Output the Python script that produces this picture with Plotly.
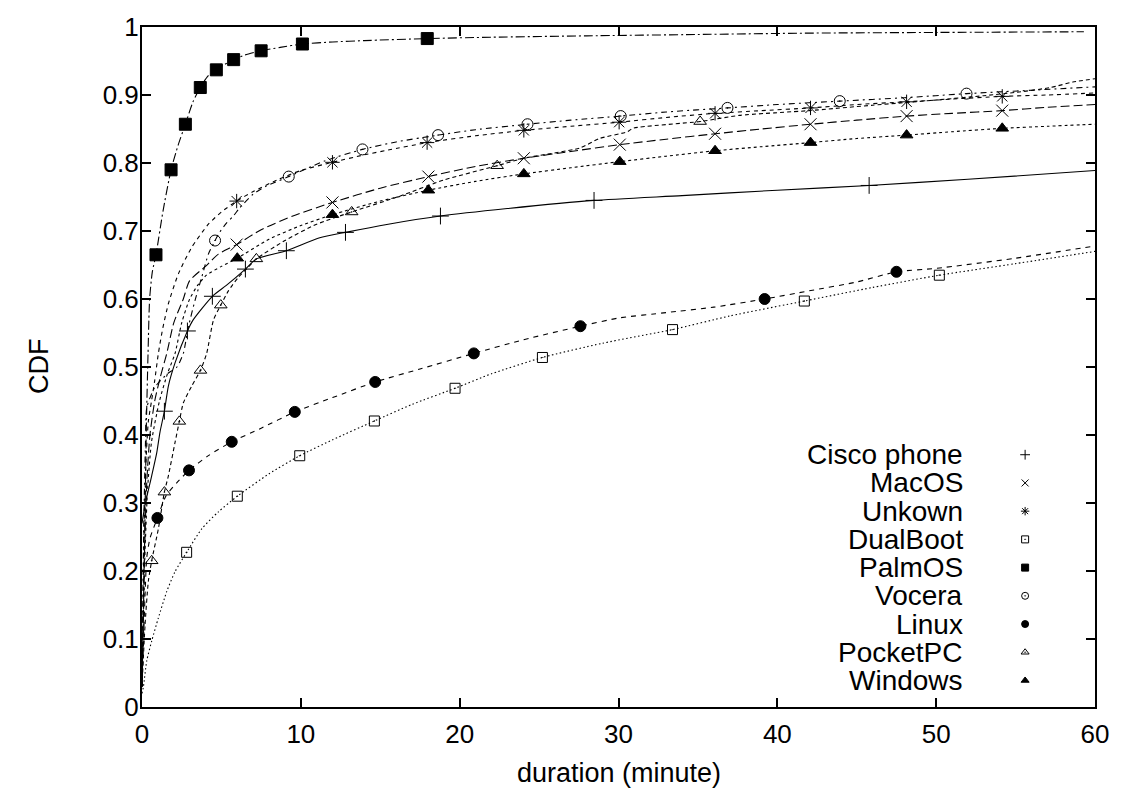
import plotly.graph_objects as go

# ---------------- data: session duration (minutes) vs CDF ----------------
cisco_x = [0, 0.19, 0.61, 0.93, 1.13, 1.41, 1.66, 2.08, 2.86, 3.21, 4.43, 5.31, 6.51, 7.2, 9.09,
           11.19, 12.81, 15.5, 18.79, 23.0, 28.46, 34.0, 40.0, 45.78, 52.0, 60.0]
cisco_y = [0.27, 0.297, 0.340, 0.374, 0.404, 0.435, 0.472, 0.506, 0.553, 0.569, 0.604, 0.620, 0.644,
           0.659, 0.671, 0.690, 0.698, 0.710, 0.722, 0.733, 0.745, 0.752, 0.760, 0.767, 0.776, 0.789]
cisco_mx = [1.41, 2.86, 4.43, 6.51, 9.09, 12.81, 18.79, 28.46, 45.78]
cisco_my = [0.435, 0.553, 0.604, 0.644, 0.671, 0.698, 0.722, 0.745, 0.767]

macos_x = [0, 0.07, 0.15, 0.3, 0.5, 0.8, 1.15, 1.56, 2.0, 2.6, 3.0, 4.05, 4.81, 5.96, 7.5, 9.5,
           11.99, 15.0, 18.03, 21.0, 24.04, 27.0, 30.08, 33.0, 36.08, 39.0, 42.09, 45.0, 48.14,
           51.0, 54.16, 57.0, 60.0]
macos_y = [0.03, 0.12, 0.22, 0.33, 0.40, 0.45, 0.485, 0.52, 0.565, 0.600, 0.627, 0.649, 0.666,
           0.680, 0.702, 0.722, 0.742, 0.763, 0.780, 0.795, 0.807, 0.817, 0.827, 0.835, 0.843,
           0.850, 0.857, 0.863, 0.869, 0.873, 0.877, 0.882, 0.886]
macos_mx = [5.96, 11.99, 18.03, 24.04, 30.08, 36.08, 42.09, 48.14, 54.16]
macos_my = [0.680, 0.742, 0.780, 0.807, 0.827, 0.843, 0.857, 0.869, 0.877]

unknown_x = [0, 0.05, 0.12, 0.25, 0.4, 0.6, 0.8, 1.03, 1.3, 1.66, 2.29, 3.13, 4.18, 5.0, 5.96,
             7.0, 8.5, 10.0, 11.99, 14.0, 15.5, 17.95, 21.0, 24.04, 27.0, 30.04, 33.0, 36.08,
             39.0, 42.09, 45.0, 48.14, 51.0, 54.16, 57.0, 60.0]
unknown_y = [0.03, 0.12, 0.25, 0.36, 0.42, 0.45, 0.48, 0.52, 0.556, 0.593, 0.637, 0.676, 0.710,
             0.728, 0.744, 0.758, 0.775, 0.789, 0.801, 0.812, 0.819, 0.830, 0.840, 0.848, 0.854,
             0.860, 0.867, 0.873, 0.877, 0.881, 0.886, 0.890, 0.894, 0.898, 0.900, 0.903]
unknown_mx = [5.96, 11.99, 17.95, 24.04, 30.04, 36.08, 42.09, 48.14, 54.16]
unknown_my = [0.744, 0.801, 0.830, 0.848, 0.860, 0.873, 0.881, 0.890, 0.898]

dualboot_x = [0, 0.09, 0.3, 0.61, 1.03, 1.56, 2.08, 2.81, 3.76, 4.81, 6.0, 8.0, 9.93, 12.0, 14.63,
              17.0, 19.71, 22.0, 25.21, 29.0, 33.4, 37.0, 41.7, 46.0, 50.2, 55.0, 60.0]
dualboot_y = [0.02, 0.03, 0.068, 0.097, 0.131, 0.170, 0.199, 0.2275, 0.262, 0.287, 0.310, 0.343,
              0.3695, 0.393, 0.4206, 0.445, 0.4687, 0.490, 0.514, 0.535, 0.555, 0.575, 0.597,
              0.617, 0.635, 0.652, 0.670]
dualboot_mx = [2.81, 6.0, 9.93, 14.63, 19.71, 25.21, 33.4, 41.7, 50.2]
dualboot_my = [0.2275, 0.310, 0.3695, 0.4206, 0.4687, 0.514, 0.555, 0.597, 0.635]

palmos_x = [0, 0.1, 0.2, 0.28, 0.38, 0.48, 0.65, 0.88, 1.32, 1.83, 2.27, 2.73, 3.21, 3.67, 4.16,
            4.68, 5.2, 5.77, 6.5, 7.5, 8.7, 10.1, 12.0, 14.0, 17.96, 22.0, 28.0, 35.0, 42.0,
            50.0, 59.3]
palmos_y = [0.03, 0.15, 0.30, 0.42, 0.52, 0.60, 0.64, 0.665, 0.729, 0.790, 0.826, 0.857, 0.890,
            0.911, 0.928, 0.937, 0.945, 0.952, 0.959, 0.965, 0.970, 0.975, 0.978, 0.980, 0.983,
            0.985, 0.987, 0.989, 0.991, 0.992, 0.993]
palmos_mx = [0.88, 1.83, 2.73, 3.67, 4.68, 5.77, 7.5, 10.1, 17.96]
palmos_my = [0.665, 0.790, 0.857, 0.911, 0.937, 0.952, 0.965, 0.975, 0.983]

vocera_x = [0, 0.05, 0.12, 0.22, 0.3, 0.8, 1.6, 2.2, 2.6, 2.92, 3.34, 3.76, 4.18, 4.6, 4.91, 5.33,
            5.75, 6.15, 6.99, 7.83, 9.24, 11.5, 13.88, 16.0, 18.64, 21.0, 24.27, 27.0, 30.14,
            33.0, 36.86, 40.0, 43.93, 48.0, 51.91, 56.0, 60.0]
vocera_y = [0.03, 0.15, 0.28, 0.39, 0.44, 0.47, 0.49, 0.50, 0.52, 0.559, 0.598, 0.632, 0.666,
            0.686, 0.699, 0.712, 0.722, 0.734, 0.754, 0.766, 0.780, 0.803, 0.820, 0.831, 0.841,
            0.849, 0.857, 0.863, 0.869, 0.875, 0.881, 0.886, 0.891, 0.896, 0.902, 0.907, 0.912]
vocera_mx = [4.6, 9.24, 13.88, 18.64, 24.27, 30.14, 36.86, 43.93, 51.91]
vocera_my = [0.686, 0.780, 0.820, 0.841, 0.857, 0.869, 0.881, 0.891, 0.902]

linux_x = [0, 0.1, 0.2, 0.3, 0.5, 0.97, 1.5, 2.2, 2.96, 4.2, 5.65, 7.5, 9.62, 12.0, 14.68, 17.5,
           20.89, 24.0, 27.6, 30.0, 33.0, 36.0, 39.2, 42.0, 45.0, 47.5, 50.0, 55.0, 60.0]
linux_y = [0.03, 0.10, 0.17, 0.22, 0.248, 0.278, 0.310, 0.330, 0.348, 0.370, 0.390, 0.410, 0.434,
           0.455, 0.478, 0.497, 0.520, 0.540, 0.560, 0.572, 0.580, 0.588, 0.600, 0.612, 0.625,
           0.640, 0.645, 0.660, 0.678]
linux_mx = [0.97, 2.96, 5.65, 9.62, 14.68, 20.89, 27.6, 39.2, 47.5]
linux_my = [0.278, 0.348, 0.390, 0.434, 0.478, 0.520, 0.560, 0.600, 0.640]

pocketpc_x = [0, 0.19, 0.4, 0.61, 1.03, 1.41, 1.66, 2.08, 2.35, 2.6, 3.13, 3.68, 4.07, 4.5, 4.96,
              5.44, 6.07, 6.7, 7.2, 9.0, 11.0, 13.2, 16.2, 19.0, 22.36, 24.04, 27.56, 28.8,
              30.57, 30.9, 35.14, 37.6, 42.0, 46.0, 50.2, 53.0, 55.07, 57.2, 58.6, 60.0]
pocketpc_y = [0.03, 0.12, 0.185, 0.215, 0.262, 0.316, 0.340, 0.389, 0.420, 0.447, 0.472, 0.495,
              0.520, 0.569, 0.591, 0.612, 0.632, 0.647, 0.659, 0.686, 0.710, 0.728, 0.751, 0.775,
              0.796, 0.807, 0.822, 0.836, 0.846, 0.851, 0.861, 0.870, 0.877, 0.885, 0.893,
              0.899, 0.904, 0.911, 0.919, 0.924]
pocketpc_mx = [0.61, 1.41, 2.35, 3.68, 4.96, 7.2, 13.2, 22.36, 35.14]
pocketpc_my = [0.215, 0.316, 0.420, 0.495, 0.591, 0.659, 0.728, 0.796, 0.861]

windows_x = [0, 0.08, 0.18, 0.35, 0.6, 1.1, 1.6, 2.08, 2.5, 3.0, 3.5, 4.05, 5.0, 6.0, 8.0, 10.0,
             11.99, 15.0, 18.03, 21.0, 24.04, 27.0, 30.08, 33.0, 36.08, 39.0, 42.09, 45.0,
             48.14, 51.0, 54.16, 57.0, 60.0]
windows_y = [0.03, 0.12, 0.22, 0.32, 0.39, 0.45, 0.49, 0.52, 0.565, 0.600, 0.620, 0.635, 0.648,
             0.660, 0.688, 0.708, 0.724, 0.744, 0.760, 0.773, 0.784, 0.793, 0.802, 0.810, 0.818,
             0.824, 0.830, 0.836, 0.841, 0.846, 0.851, 0.854, 0.857]
windows_mx = [6.0, 11.99, 18.03, 24.04, 30.08, 36.08, 42.09, 48.14, 54.16]
windows_my = [0.660, 0.724, 0.760, 0.784, 0.802, 0.818, 0.830, 0.841, 0.851]

series_names = ["Cisco phone", "MacOS", "Unkown", "DualBoot", "PalmOS",
                "Vocera", "Linux", "PocketPC", "Windows"]

x_ticks = [0, 10, 20, 30, 40, 50, 60]
y_ticks = [0, 0.1, 0.2, 0.3, 0.4, 0.5, 0.6, 0.7, 0.8, 0.9, 1]
y_tick_text = ["0", "0.1", "0.2", "0.3", "0.4", "0.5", "0.6", "0.7", "0.8", "0.9", "1"]

# ---------------- styles ----------------
FONT = "Liberation Sans, Arial, Helvetica, sans-serif"
styles = [
    # (line x, line y, marker x, marker y, dash, symbol, marker size)
    (cisco_x, cisco_y, cisco_mx, cisco_my, "solid", "cross-thin-open", 12),
    (macos_x, macos_y, macos_mx, macos_my, "9px,4px", "x-thin-open", 12),
    (unknown_x, unknown_y, unknown_mx, unknown_my, "4px,4px", "asterisk-open", 12),
    (dualboot_x, dualboot_y, dualboot_mx, dualboot_my, "1.5px,2.5px", "square-open-dot", 10),
    (palmos_x, palmos_y, palmos_mx, palmos_my, "9px,3px,2px,3px", "square", 12),
    (vocera_x, vocera_y, vocera_mx, vocera_my, "6px,4px,2px,4px", "circle-open-dot", 11),
    (linux_x, linux_y, linux_mx, linux_my, "5px,5px", "circle", 11),
    (pocketpc_x, pocketpc_y, pocketpc_mx, pocketpc_my, "4px,3px", "triangle-up-open-dot", 11),
    (windows_x, windows_y, windows_mx, windows_my, "3px,3px", "triangle-up", 11),
]

fig = go.Figure()

for name, (lx, ly, mx, my, dash, symbol, msize) in zip(series_names, styles):
    fig.add_trace(go.Scatter(
        x=lx, y=ly, mode="lines", name=name, showlegend=False,
        line=dict(color="black", width=1.1, dash=dash, shape="spline", smoothing=0.6),
        hoverinfo="skip",
    ))
    fig.add_trace(go.Scatter(
        x=mx, y=my, mode="markers", name=name, showlegend=False,
        marker=dict(symbol=symbol, size=msize, color="black",
                    line=dict(color="black", width=1)),
    ))

# key: labels right-aligned, sample symbol to the right
KEY_TEXT_X = 0.8636      # paper fraction
KEY_MARK_X = 55.6        # data units on the x axis
KEY_TOP = 0.371
KEY_STEP = 0.0415
for i, (name, st) in enumerate(zip(series_names, styles)):
    yk = KEY_TOP - i * KEY_STEP
    fig.add_annotation(x=KEY_TEXT_X, y=yk, xref="paper", yref="y", text=name,
                       showarrow=False, xanchor="right", yanchor="middle",
                       font=dict(family=FONT, size=28, color="black"))
    fig.add_trace(go.Scatter(
        x=[KEY_MARK_X], y=[yk], mode="markers", showlegend=False, hoverinfo="skip",
        marker=dict(symbol=st[5], size=7, color="black", line=dict(color="black", width=1)),
    ))

# axis titles
fig.add_annotation(x=0.501, y=-0.0967, xref="paper", yref="paper", text="duration (minute)",
                   showarrow=False, xanchor="center", yanchor="middle",
                   font=dict(family=FONT, size=27, color="black"))
fig.add_annotation(x=-0.1074, y=0.501, xref="paper", yref="paper", text="CDF",
                   showarrow=False, xanchor="center", yanchor="middle", textangle=-90,
                   font=dict(family=FONT, size=27, color="black"))

axis_common = dict(
    showgrid=False, zeroline=False, showline=True, linecolor="black", linewidth=2,
    mirror="ticks", ticks="inside", ticklen=9, tickwidth=1.5, tickcolor="black",
    tickfont=dict(family=FONT, size=26, color="black"),
)
fig.update_xaxes(range=[0, 60], tickvals=x_ticks, ticklabelstandoff=3, **axis_common)
fig.update_yaxes(range=[0, 1], tickvals=y_ticks, ticktext=y_tick_text,
                 ticklabelstandoff=-4, **axis_common)

fig.update_layout(
    width=1128, height=799,
    margin=dict(l=142, r=33, t=21, b=92),
    paper_bgcolor="white", plot_bgcolor="white",
    font=dict(family=FONT, color="black"),
    showlegend=False,
)

fig.write_html("out.html")
